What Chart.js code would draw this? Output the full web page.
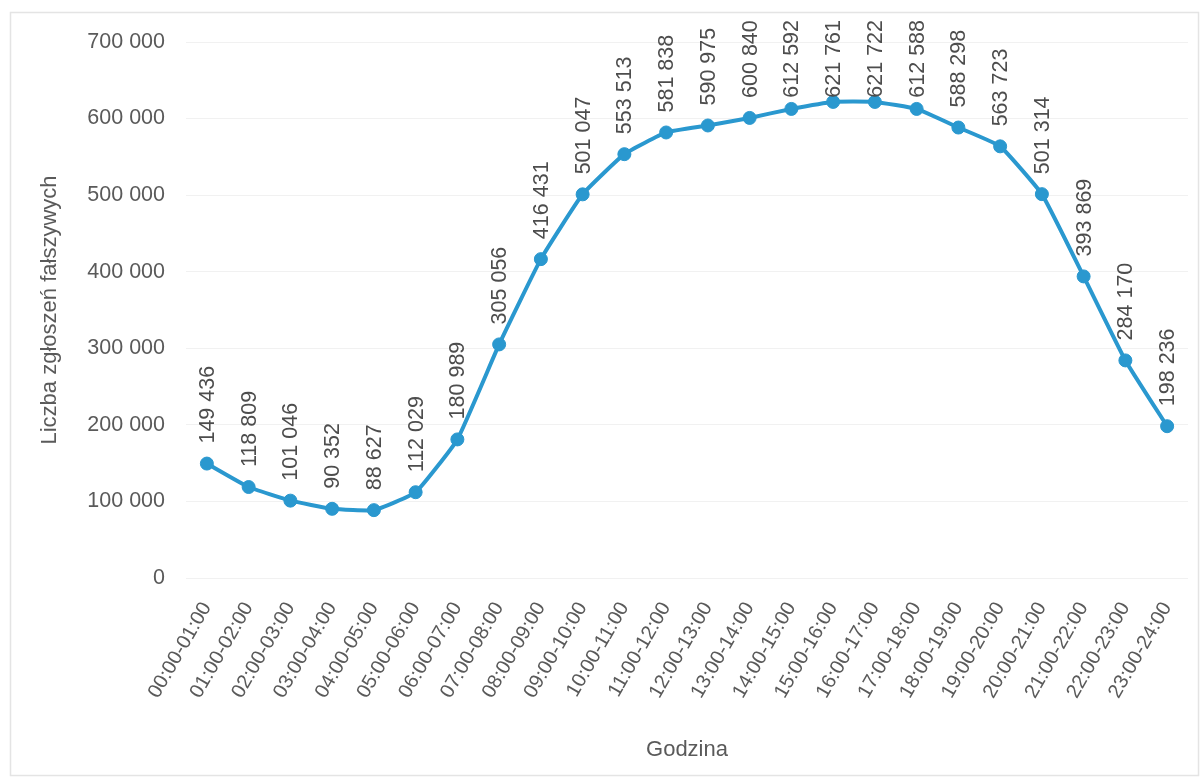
<!DOCTYPE html>
<html lang="pl">
<head>
<meta charset="utf-8">
<title>Liczba zgłoszeń fałszywych według godziny</title>
<script src="https://cdn.jsdelivr.net/npm/chart.js@4/dist/chart.umd.min.js"></script>
<style>
  html, body { margin: 0; padding: 0; background: #ffffff; }
  #wrap { width: 1204px; height: 781px; }
</style>
</head>
<body>
<div id="wrap"><canvas id="chart" width="1204" height="781"></canvas></div>
<script>
// Godzinowe przedziały doby
const hours = [
  '00:00-01:00', '01:00-02:00', '02:00-03:00', '03:00-04:00', '04:00-05:00', '05:00-06:00',
  '06:00-07:00', '07:00-08:00', '08:00-09:00', '09:00-10:00', '10:00-11:00', '11:00-12:00',
  '12:00-13:00', '13:00-14:00', '14:00-15:00', '15:00-16:00', '16:00-17:00', '17:00-18:00',
  '18:00-19:00', '19:00-20:00', '20:00-21:00', '21:00-22:00', '22:00-23:00', '23:00-24:00'
];

// Liczba zgłoszeń fałszywych w każdym przedziale
const falseReports = [
  149436, 118809, 101046, 90352, 88627, 112029,
  180989, 305056, 416431, 501047, 553513, 581838,
  590975, 600840, 612592, 621761, 621722, 612588,
  588298, 563723, 501314, 393869, 284170, 198236
];

// Podziałka osi wartości
const yTicks = [0, 100000, 200000, 300000, 400000, 500000, 600000, 700000];

const yTitle = 'Liczba zgłoszeń fałszywych';
const xTitle = 'Godzina';

const FONT = "'Liberation Sans', 'DejaVu Sans', sans-serif";
const LINE_COLOR = '#2a98cf';

function fmt(v) {
  return String(Math.round(v)).replace(/\B(?=(\d{3})+(?!\d))/g, ' ');
}

// Delikatna ramka wokół całego wykresu
const frame = {
  id: 'frame',
  beforeDraw(chart) {
    const ctx = chart.ctx;
    ctx.save();
    ctx.fillStyle = '#ffffff';
    ctx.fillRect(0, 0, chart.width, chart.height);
    ctx.strokeStyle = '#e4e4e4';
    ctx.lineWidth = 1.5;
    ctx.strokeRect(10.5, 12.5, chart.width - 16, chart.height - 18);
    ctx.restore();
  }
};

// Pionowe etykiety wartości nad punktami
const valueLabels = {
  id: 'valueLabels',
  afterDatasetsDraw(chart) {
    const ctx = chart.ctx;
    const meta = chart.getDatasetMeta(0);
    const data = chart.data.datasets[0].data;
    ctx.save();
    ctx.font = '21.5px ' + FONT;
    ctx.fillStyle = '#4d4d4d';
    ctx.textAlign = 'left';
    ctx.textBaseline = 'middle';
    meta.data.forEach((pt, i) => {
      const text = fmt(data[i]);
      const w = ctx.measureText(text).width;
      let bottom = pt.y - 20;
      const minTop = 20;
      if (bottom - w < minTop) bottom = minTop + w;
      ctx.save();
      ctx.translate(pt.x + 1, bottom);
      ctx.rotate(-Math.PI / 2);
      ctx.fillText(text, 0, 0);
      ctx.restore();
    });
    ctx.restore();
  }
};

new Chart(document.getElementById('chart'), {
  type: 'line',
  data: {
    labels: hours,
    datasets: [{
      data: falseReports,
      borderColor: LINE_COLOR,
      backgroundColor: LINE_COLOR,
      borderWidth: 4,
      pointRadius: 6.5,
      pointBackgroundColor: LINE_COLOR,
      pointBorderColor: LINE_COLOR,
      pointBorderWidth: 1,
      tension: 0.12,
      fill: false
    }]
  },
  options: {
    responsive: false,
    animation: false,
    events: [],
    layout: { padding: { left: 12, right: 16, top: 42, bottom: 0 } },
    plugins: {
      legend: { display: false },
      tooltip: { enabled: false }
    },
    scales: {
      x: {
        type: 'category',
        offset: true,
        border: { display: false },
        grid: { display: false, drawTicks: false },
        ticks: {
          autoSkip: false,
          minRotation: 60,
          maxRotation: 60,
          padding: 20,
          color: '#5a5a5a',
          font: { family: FONT, size: 20 }
        },
        title: {
          display: true,
          text: xTitle,
          color: '#5a5a5a',
          font: { family: FONT, size: 22 },
          padding: { top: 4, bottom: 18 }
        },
        afterFit(scale) {
          scale.height = 203;
          scale.paddingLeft = 0;
          scale.paddingRight = 0;
        }
      },
      y: {
        min: 0,
        max: 700000,
        border: { display: false },
        grid: { color: '#f1f1f1', lineWidth: 1, drawTicks: false },
        afterBuildTicks(scale) { scale.ticks = yTicks.map(v => ({ value: v })); },
        ticks: {
          padding: 21,
          color: '#5a5a5a',
          font: { family: FONT, size: 21.5 },
          callback: v => fmt(v)
        },
        title: {
          display: true,
          text: yTitle,
          color: '#5a5a5a',
          font: { family: FONT, size: 22 },
          padding: { top: 25, bottom: 0 }
        },
        afterFit(scale) { scale.width = 174; }
      }
    }
  },
  plugins: [frame, valueLabels]
});
</script>
</body>
</html>
